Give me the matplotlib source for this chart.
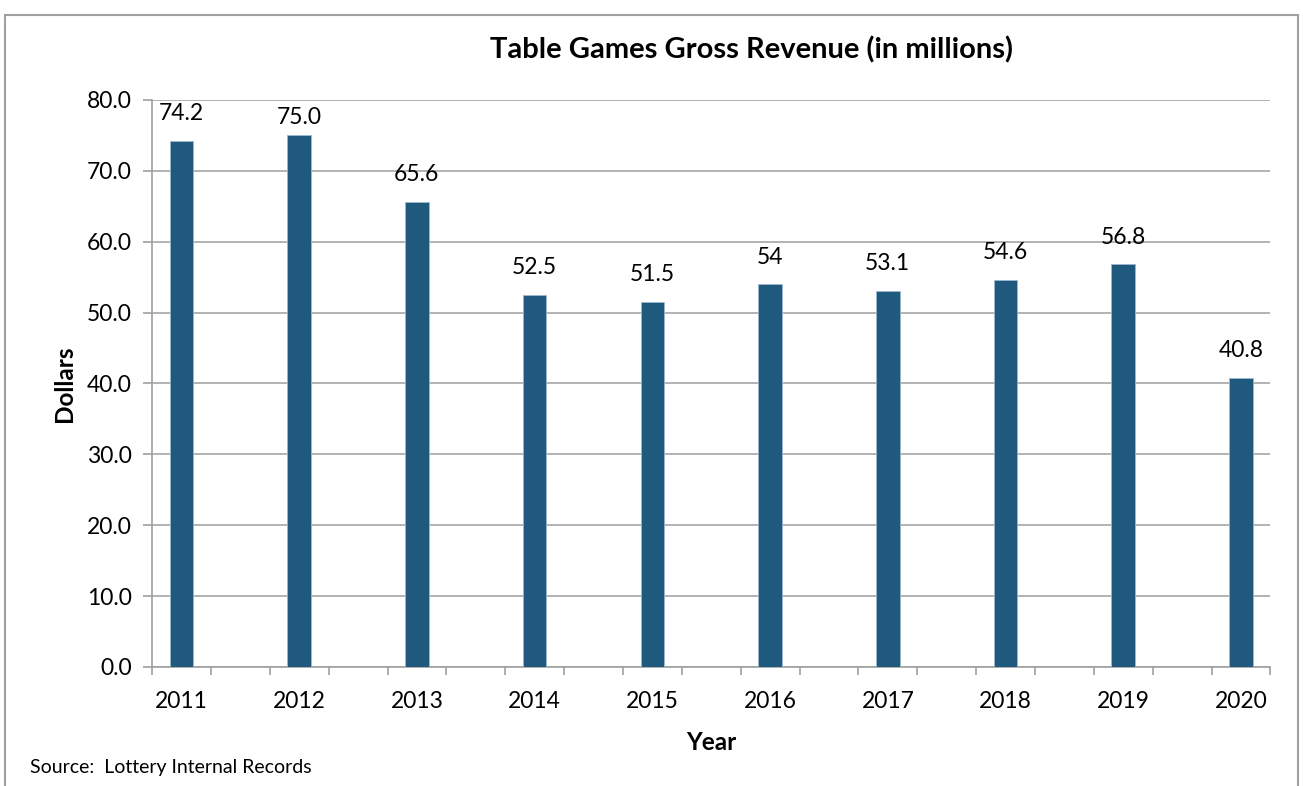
import numpy as np
import matplotlib.pyplot as plt
from matplotlib.patches import Rectangle

# data
years = ['2011', '2012', '2013', '2014', '2015', '2016', '2017', '2018', '2019', '2020']
revenue = [74.2, 75.0, 65.6, 52.5, 51.5, 54.0, 53.1, 54.6, 56.8, 40.8]
labels = ['74.2', '75.0', '65.6', '52.5', '51.5', '54', '53.1', '54.6', '56.8', '40.8']
yticks = [0, 10, 20, 30, 40, 50, 60, 70, 80]

plt.rcParams['font.family'] = ['Lato', 'DejaVu Sans']

fig = plt.figure(figsize=(13.03, 7.86), dpi=100)
ax = fig.add_axes([0.1167, 0.1514, 0.975 - 0.1167, 0.8728 - 0.1514])

x = np.arange(len(years))
ax.bar(x, revenue, width=0.2, color='#1F5A7E', edgecolor='#9DB9CF', linewidth=0.6, zorder=3)

# value labels (the 2012 one sits lower, as in the original)
for i, (v, s) in enumerate(zip(revenue, labels)):
    off = 5 if i == 1 else 12
    ax.annotate(s, (x[i], v), xytext=(0, off), textcoords='offset points',
                ha='center', va='bottom', fontsize=16.5, color='black')

ax.set_xlim(-0.25, len(years) - 0.75)
ax.set_ylim(0, 80)
ax.set_yticks(yticks)
ax.set_yticklabels(['%.1f' % t for t in yticks], fontsize=16.5)
ax.set_xticks(x)
ax.set_xticklabels(years, fontsize=16.5)
ax.set_xticks(np.arange(-0.25, len(years) - 0.5, 0.5), minor=True)
ax.tick_params(axis='x', which='major', length=0, pad=17)
ax.tick_params(axis='x', which='minor', length=6, color='#A0A0A0', width=1.2)
ax.tick_params(axis='y', length=6.5, color='#A0A0A0', width=1.2, pad=8)

ax.grid(axis='y', color='#A6A6A6', linewidth=1.2, zorder=0)
for side in ['top', 'right']:
    ax.spines[side].set_visible(False)
for side in ['left', 'bottom']:
    ax.spines[side].set_color('#A0A0A0')
    ax.spines[side].set_linewidth(1.2)

ax.set_ylabel('Dollars', fontsize=17.5, fontweight='bold', labelpad=8)
ax.set_xlabel('Year', fontsize=17.5, fontweight='bold', labelpad=14)
fig.text(0.577, 0.937, 'Table Games Gross Revenue (in millions)', ha='center', va='center',
         fontsize=21, fontweight='bold')
fig.text(0.023, 0.023, 'Source:  Lottery Internal Records', ha='left', va='center', fontsize=14)

fig.patches.append(Rectangle((0.004, -0.01), 0.992, 0.9995 - 0.01 + 0.001, transform=fig.transFigure,
                             fill=False, edgecolor='#A0A0A0', linewidth=1.5))

plt.savefig('out.png', dpi=100)
